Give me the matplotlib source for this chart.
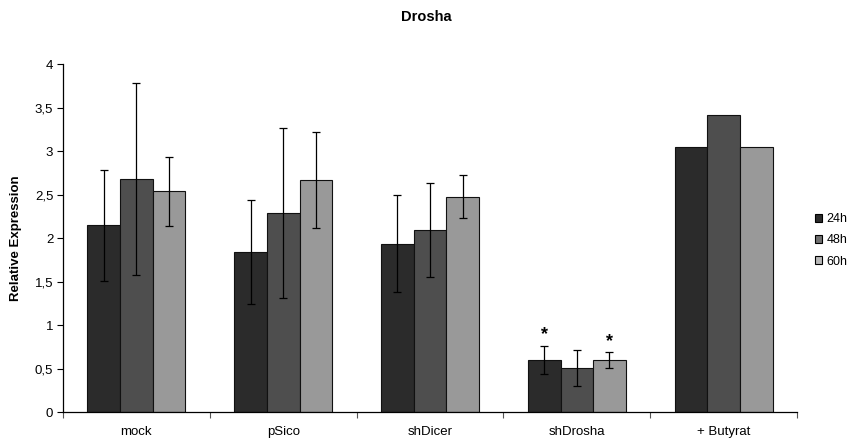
import matplotlib
matplotlib.use("Agg")
import matplotlib.pyplot as plt
import numpy as np
from matplotlib.ticker import FixedLocator, FuncFormatter

plt.rcParams['font.family'] = ['Liberation Sans', 'DejaVu Sans']

categories = ["mock", "pSico", "shDicer", "shDrosha", "+ Butyrat"]
series = ["24h", "48h", "60h"]
values = {
    "24h": [2.15, 1.84, 1.94, 0.60, 3.05],
    "48h": [2.68, 2.29, 2.10, 0.51, 3.42],
    "60h": [2.54, 2.67, 2.48, 0.60, 3.05],
}
errors = {
    "24h": [0.64, 0.60, 0.555, 0.165, np.nan],
    "48h": [1.10, 0.98, 0.54, 0.205, np.nan],
    "60h": [0.40, 0.55, 0.25, 0.09, np.nan],
}
# significance markers: (category index, series name)
significant = [(3, "24h"), (3, "60h")]
yticks = [0, 0.5, 1, 1.5, 2, 2.5, 3, 3.5, 4]

colors = {"24h": "#2b2b2b", "48h": "#4e4e4e", "60h": "#999999"}
legend_colors = {"24h": "#2b2b2b", "48h": "#707070", "60h": "#b8b8b8"}

fig = plt.figure(figsize=(8.49, 4.42), dpi=100)
ax = fig.add_axes([0.0742, 0.0672, 0.8646, 0.7873])

x = np.arange(len(categories))
width = 1 / 4.5
offsets = {"24h": -width, "48h": 0.0, "60h": width}

for s in series:
    pos = x + offsets[s]
    ax.bar(pos, values[s], width=width, color=colors[s], edgecolor="#111111",
           linewidth=0.8, zorder=2)
    err = np.array(errors[s])
    mask = ~np.isnan(err)
    ax.errorbar(pos[mask], np.array(values[s])[mask], yerr=err[mask], fmt="none",
                ecolor="#000000", elinewidth=0.9, capsize=2.6, capthick=0.9, zorder=3)

for ci, s in significant:
    top = values[s][ci] + errors[s][ci]
    ax.text(x[ci] + offsets[s], top + 0.03, "*", ha="center", va="bottom",
            fontsize=13, fontweight="bold")

ax.set_xlim(-0.5, len(categories) - 0.5)
ax.set_ylim(0, 4)
ax.yaxis.set_major_locator(FixedLocator(yticks))
ax.yaxis.set_major_formatter(FuncFormatter(lambda v, p: f"{v:g}".replace(".", ",")))
ax.set_xticks(x)
ax.set_xticklabels(categories, fontsize=9.5)
ax.tick_params(axis="x", length=0, pad=10)
ax.set_xticks(np.arange(-0.5, len(categories)), minor=True)
ax.tick_params(axis="x", which="minor", length=4, width=0.8, direction="out", color="#555555")
ax.tick_params(axis="y", length=4, width=0.8, direction="out", labelsize=9.5, pad=3)

for side in ["top", "right"]:
    ax.spines[side].set_visible(False)
for side in ["left", "bottom"]:
    ax.spines[side].set_linewidth(0.9)
    ax.spines[side].set_color("#000000")

ax.set_ylabel("Relative Expression", fontsize=9.5, fontweight="bold", labelpad=9)
fig.suptitle("Drosha", fontsize=10.5, fontweight="bold", x=0.502, y=0.977)

handles = [plt.Rectangle((0, 0), 1, 1, facecolor=legend_colors[s], edgecolor="#000000",
                         linewidth=0.8) for s in series]
fig.legend(handles, series, loc="center left", bbox_to_anchor=(0.954, 0.456),
           frameon=False, fontsize=9, handlelength=0.6, handleheight=0.6,
           handletextpad=0.3, labelspacing=0.75, borderaxespad=0)

fig.savefig("out.png", dpi=100)
